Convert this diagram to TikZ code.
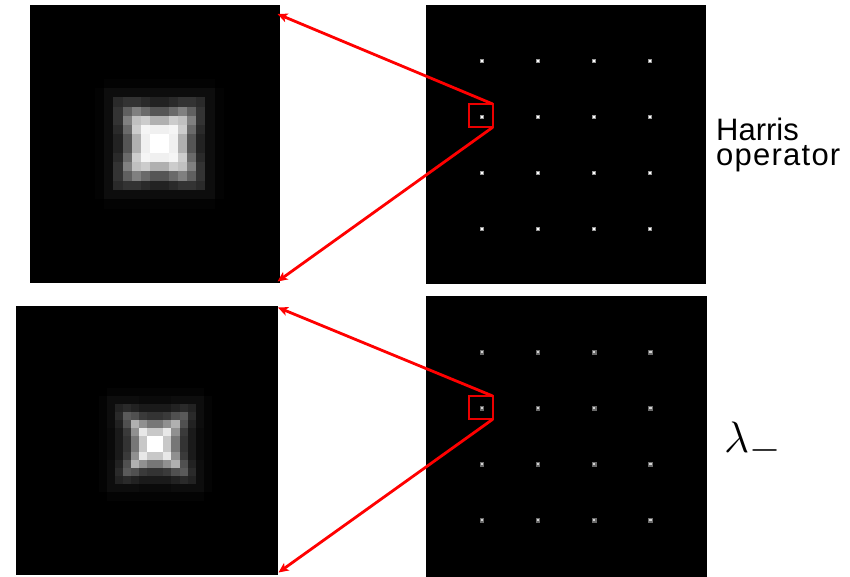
\documentclass[tikz,border=0pt]{standalone}
\usepackage{fix-cm}
\usepackage{graphicx}
\usepackage{fontspec}
\setmainfont{Liberation Sans}
\usetikzlibrary{arrows.meta}
\definecolor{zoomred}{RGB}{235,0,0}
\definecolor{arrowred}{RGB}{255,0,0}
\definecolor{dotringA}{RGB}{150,150,150}
\definecolor{dotcoreA}{RGB}{255,255,255}
\definecolor{dotringB}{RGB}{105,105,105}
\definecolor{dotcoreB}{RGB}{210,210,210}
\def\topvals{{255,240,176,85,34,13,3,
 240,245,204,106,42,13,3,
 176,204,192,128,51,13,3,
 85,106,128,96,51,13,3,
 34,42,51,51,42,13,3,
 13,13,13,13,13,13,3,
 3,3,3,3,3,3,0}}
\def\botvals{{255,200,119,51,26,10,4,
 200,232,144,58,26,10,4,
 119,144,176,80,34,13,4,
 51,58,80,90,42,13,4,
 26,26,34,42,34,13,4,
 10,10,13,13,13,13,4,
 4,4,4,4,4,4,0}}
\newcommand\pixgrid[5]{%
 \foreach \ii in {0,...,13}{\foreach \jj in {0,...,13}{%
   \pgfmathtruncatemacro\gdr{\ii<7 ? 6-\ii : \ii-7}%
   \pgfmathtruncatemacro\gdc{\jj<7 ? 6-\jj : \jj-7}%
   \pgfmathtruncatemacro\gvv{#1[\gdr*7+\gdc]}%
   \definecolor{cellc}{RGB}{\gvv,\gvv,\gvv}%
   \fill[cellc] ({#2+\jj*#4},{#3+\ii*#5}) rectangle ++({#4+0.2},{#5+0.2});
 }}}
\newcommand\dotgrid[6]{% x0 y0 dx dy ring core
 \foreach \ii in {0,...,3}{\foreach \jj in {0,...,3}{%
   \fill[#5] ({#1+\jj*#3-2.2},{#2+\ii*#4-2.2}) rectangle ++(4.4,4.4);
   \fill[#6] ({#1+\jj*#3-1.1},{#2+\ii*#4-1.1}) rectangle ++(2.2,2.2);
 }}}
\begin{document}
\begin{tikzpicture}[x=1pt,y=-1pt,
  imgbox/.style={fill=black, draw=none, inner sep=0pt, outer sep=0pt, anchor=north west},
  redbox/.style={draw=zoomred, line width=1.7pt, minimum width=23.4pt, minimum height=23.3pt, inner sep=0pt, outer sep=0pt},
  redarrow/.style={draw=arrowred, line width=2.8pt, -{Stealth[length=10pt,width=9pt,inset=2.5pt]}},
  lbl/.style={anchor=base west, inner sep=0pt, align=left, font=\fontsize{31}{25.3}\selectfont}]
\useasboundingbox (0,0) rectangle (850,577);
% images
\node[imgbox, minimum width=250pt, minimum height=277.7pt] (zoomA) at (30,5) {};
\node[imgbox, minimum width=262.3pt, minimum height=269pt] (zoomB) at (16,306) {};
\node[imgbox, minimum width=280pt, minimum height=279pt] (imgA) at (426,5) {};
\node[imgbox, minimum width=281pt, minimum height=281pt] (imgB) at (426,296) {};
% enlarged pixels
\pixgrid{\topvals}{94.9}{78.95}{9.2}{9.25}
\pixgrid{\botvals}{98.5}{387.65}{8.1}{8.05}
% dots
\dotgrid{481.7}{60.9}{56}{56}{dotringA}{dotcoreA}
\dotgrid{481.9}{352.3}{56.2}{56}{dotringB}{dotcoreB}
% zoom boxes
\node[redbox] (boxA) at (481,115.65) {};
\node[redbox] (boxB) at (481,407.65) {};
% arrow ends
\coordinate (tA1) at (277.5,14);
\coordinate (tA2) at (277.5,281.5);
\coordinate (tB1) at (278,307.5);
\coordinate (tB2) at (278.5,572.5);
\draw[redarrow] (boxA.north east) -- (tA1);
\draw[redarrow] (boxA.south east) -- (tA2);
\draw[redarrow] (boxB.north east) -- (tB1);
\draw[redarrow] (boxB.south east) -- (tB2);
% labels
\node[lbl] (harris) at (716,166) {Harris\\\addfontfeature{LetterSpace=4}operator};
\node[anchor=base west, inner sep=0pt, font=\fontsize{44}{44}\selectfont] (lam) at (724,452.5) {$\lambda_{\scalebox{1.3}{$\scriptstyle-$}}$};
\end{tikzpicture}
\end{document}
